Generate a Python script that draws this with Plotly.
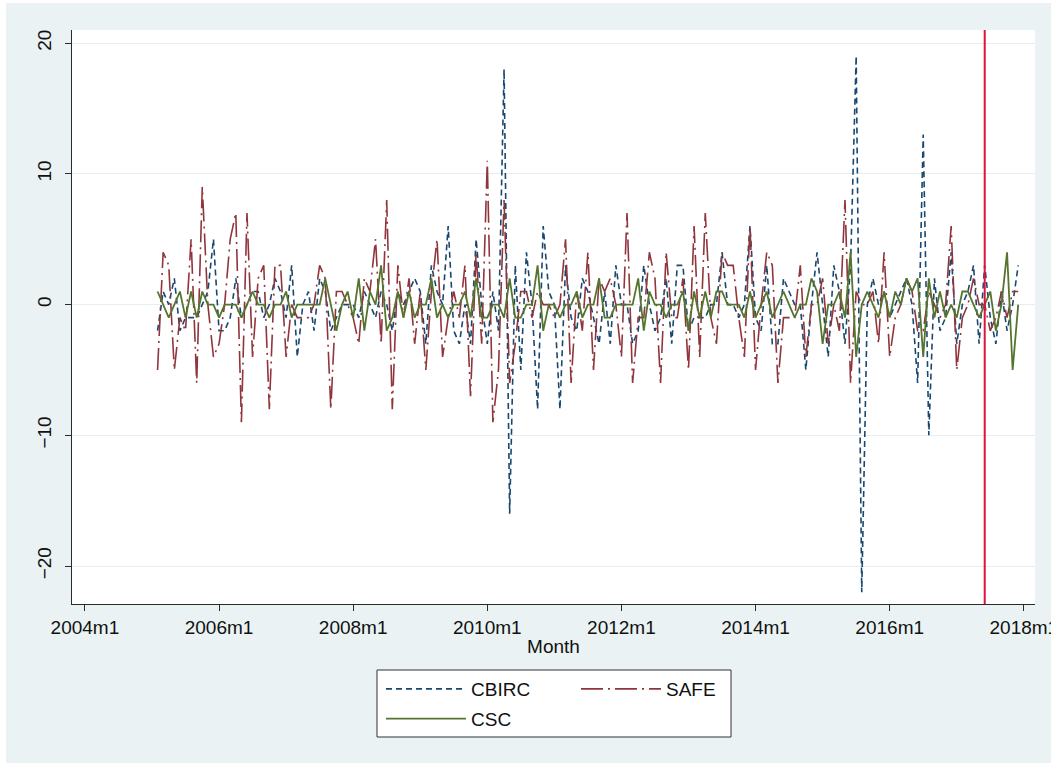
import plotly.graph_objects as go

# ---------------- data (months counted from 2004m1 = 0) ----------------
start_month = 13          # 2005m2
ref_month = 161           # 2017m6 (vertical reference line)

cbirc = [-2, 1, 0, 2, -2, -1, -1, -1, 0, 1, 5, -2, -2, -1, 2,
         -1, 0, 1, 1, -1, 0, 2, 1, -1, 3, -4, 0, 1, -2, 2,
         1, -2, -1, 0, 0, 0, -1, 1, 0, -1, 1, 0, -2, 1, 0, 1,
         2, 1, -3, 3, 1, 0, 6, -2, -3, 0, -3, 5, 0, -3, 1,
         -2, 18, -16, 3, -5, 4, 0, -8, 6, 1, 0, -8, 3, -1, -2, 2,
         1, -1, -3, 1, -3, 3, 0, 0, -3, -2, 3, 0, -2, -1, 2,
         -3, 3, 3, -2, -1, -1, -1, 0, 0, 4, 0, 0, -1, 0, 6, -1,
         -2, 3, -3, -3, 2, 1, 0, 0, -5, 0, 4, 0, -4, 3, 1,
         -3, 3, 19, -22, 0, 2, 0, 1, -1, 0, 1, 2, 0, -6, 13,
         -10, 2, -2, -1, 4, -3, 0, 1, 3, -3, 3, -1, -3, 1, -2, 0, 3]

safe = [-5, 4, 3, -5, -1, -2, 5, -6, 9, 0, -4, -3, 0, 5, 7,
        -9, 7, -4, 2, 3, -8, 3, 3, -4, 0, -1, -1, -1, 0, 3,
        2, -8, 1, 1, 0, -1, -3, 2, 1, 5, -3, 8, -8, 3, -1, 2,
        -3, 1, -5, 1, 5, -4, -1, 1, -1, 3, -7, 4, -3, 11, -9,
        -5, 8, -6, -3, 1, 1, -1, 1, 0, 0, -1, 0, 5, -6, 1, -2,
        4, -5, 2, 1, 2, 0, -4, 7, -6, -1, -1, 4, 2, -6, 4,
        -1, -1, 2, -5, 6, -4, 7, -1, -3, 4, 3, 3, -1, -4, 6, -5,
        0, 4, 3, -6, -1, -1, -1, 3, -4, 0, 0, 2, -3, 0, -2,
        8, -6, 1, 0, 0, 1, -3, 4, -4, -1, 0, 2, 1, -2, -2,
        1, 0, -1, 0, 6, -5, -1, 0, 2, 0, 0, -2, -1, 1, -1, 1, 1]

csc = [1, 0, -1, 0, 1, -1, 1, -1, 1, 0, 0, -1, 0, 0, 0,
       -1, 0, 1, 0, 0, -1, 0, 0, 1, -1, 0, 0, 0, 0, 0,
       2, 0, -2, 0, 1, -1, 2, -2, 1, 0, 3, -2, -1, 1, -1, 1,
       -1, 0, 0, 2, -1, 0, -1, 0, 0, 1, -1, 2, -1, -1, 0,
       0, -1, 2, -1, -1, 0, 0, 3, -2, 0, 0, -1, 0, 0, 1, -1,
       0, 0, 2, -1, -1, 0, 0, 0, 0, 2, -2, 1, 0, 0, -1,
       0, 0, 1, -2, 1, -1, 1, -1, 1, 1, 0, 0, 0, -1, 1, -1,
       0, 1, -1, 0, 1, 0, -1, 0, 0, 2, 1, -3, 0, 0, 1,
       -1, 4, -4, 0, 1, 0, -1, 1, -1, 1, 0, 2, 1, 2, -4,
       2, -1, 1, -1, 0, -1, 1, 1, 0, -1, 0, 1, -2, 0, 4, -5, 0]

x_tick_vals = [0, 24, 48, 72, 96, 120, 144, 168]
x_tick_text = ["2004m1", "2006m1", "2008m1", "2010m1", "2012m1", "2014m1", "2016m1", "2018m1"]
y_tick_vals = [-20, -10, 0, 10, 20]

months = [start_month + i for i in range(len(cbirc))]

# ---------------- layout helpers (pixel -> paper) ----------------
W, H = 1057, 769
L, R, T, B = 72, 22, 30, 165
PW, PH = W - L - R, H - T - B


def px(xp):
    return (xp - L) / PW


def py(yp):
    return (H - B - yp) / PH


FONT = "Liberation Sans, Arial, sans-serif"
AX = "#2b2b2b"

fig = go.Figure()
fig.add_trace(go.Scatter(x=months, y=cbirc, mode="lines", name="CBIRC",
                         line=dict(color="#1a476f", width=1.6, dash="6px,4px"),
                         legend="legend", legendgroup="a"))
fig.add_trace(go.Scatter(x=months, y=safe, mode="lines", name="SAFE",
                         line=dict(color="#90353b", width=1.6, dash="22px,5px,2px,5px"),
                         legend="legend2", legendgroup="b"))
fig.add_trace(go.Scatter(x=months, y=csc, mode="lines", name="CSC",
                         line=dict(color="#55752f", width=1.8),
                         legend="legend", legendgroup="c"))

shapes = [
    # reference line
    dict(type="line", xref="x", yref="paper", x0=ref_month, x1=ref_month, y0=0, y1=1,
         line=dict(color="#DC143C", width=2), layer="above"),
    # legend box
    dict(type="rect", xref="paper", yref="paper", x0=px(377), x1=px(731), y0=py(737), y1=py(670),
         fillcolor="white", line=dict(color="#333333", width=1), layer="below"),
    # thin white outer frame
    dict(type="rect", xref="paper", yref="paper", x0=px(1), x1=px(1056), y0=py(768), y1=py(-2),
         fillcolor="rgba(0,0,0,0)", line=dict(color="white", width=10), layer="above"),
]

fig.update_layout(
    width=W, height=H,
    margin=dict(l=L, r=R, t=T, b=B, autoexpand=False),
    paper_bgcolor="#EAF2F3",
    plot_bgcolor="white",
    font=dict(family=FONT, size=19, color="#111111"),
    shapes=shapes,
    legend=dict(x=px(381), y=py(670), xanchor="left", yanchor="top",
                orientation="v", bgcolor="rgba(0,0,0,0)", borderwidth=0,
                font=dict(size=19, family=FONT), itemwidth=80, tracegroupgap=2),
    legend2=dict(x=px(576), y=py(670), xanchor="left", yanchor="top",
                 orientation="v", bgcolor="rgba(0,0,0,0)", borderwidth=0,
                 font=dict(size=19, family=FONT), itemwidth=80),
    xaxis=dict(range=[-2.31, 170.0], tickmode="array", tickvals=x_tick_vals, ticktext=x_tick_text,
               showgrid=False, zeroline=False, showline=True, linecolor=AX, linewidth=1,
               ticks="outside", ticklen=6, tickcolor=AX, tickfont=dict(size=19, family=FONT),
               ticklabeloverflow="allow", automargin=False,
               title=dict(text="Month", standoff=2, font=dict(size=19, family=FONT))),
    yaxis=dict(range=[-22.9, 21.0], tickmode="array", tickvals=y_tick_vals,
               showgrid=True, gridcolor="#E6EEF0", gridwidth=1, zeroline=False,
               showline=True, linecolor=AX, linewidth=1, automargin=False,
               ticks="outside", ticklen=6, tickcolor=AX, tickangle=-90,
               tickfont=dict(size=19, family=FONT), ticklabelstandoff=6),
    showlegend=True,
)

fig.write_html("out.html", config={"displayModeBar": False},
               post_script="document.body.style.margin='0';document.body.style.overflow='hidden';")
